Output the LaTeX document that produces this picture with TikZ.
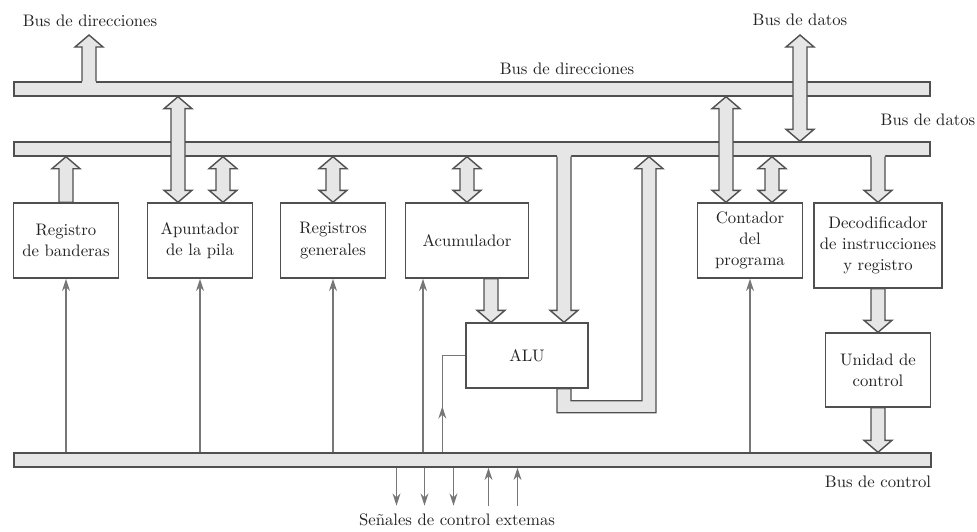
\documentclass[tikz,border=0pt]{standalone}
\usepackage{fontspec}
\usepackage{tikz}
\usetikzlibrary{calc,arrows.meta,positioning}

\definecolor{busfill}{HTML}{E6E6E6}
\definecolor{busline}{HTML}{505050}
\definecolor{ctlline}{HTML}{777777}
\definecolor{txtgray}{HTML}{222222}

\newcommand{\fatw}{0.14cm}
\newcommand{\fath}{0.28cm}
\newcommand{\fatl}{0.24cm}
% fat arrow, vertical at x of #1, from y of #1 to y of #2
\newcommand{\fatone}[2]{%
  \filldraw[fat] let \p1=(#1), \p2=(#2), \n1={sign(\y2-\y1)} in
    ({\x1-\fatw},\y1) -- ({\x1-\fatw},{\y2-\n1*\fatl}) -- ({\x1-\fath},{\y2-\n1*\fatl}) -- (\x1,\y2)
    -- ({\x1+\fath},{\y2-\n1*\fatl}) -- ({\x1+\fatw},{\y2-\n1*\fatl}) -- ({\x1+\fatw},\y1) -- cycle;}
\newcommand{\fattwo}[2]{%
  \filldraw[fat] let \p1=(#1), \p2=(#2), \n1={sign(\y2-\y1)} in
    (\x1,\y1) -- ({\x1-\fath},{\y1+\n1*\fatl}) -- ({\x1-\fatw},{\y1+\n1*\fatl})
    -- ({\x1-\fatw},{\y2-\n1*\fatl}) -- ({\x1-\fath},{\y2-\n1*\fatl}) -- (\x1,\y2)
    -- ({\x1+\fath},{\y2-\n1*\fatl}) -- ({\x1+\fatw},{\y2-\n1*\fatl})
    -- ({\x1+\fatw},{\y1+\n1*\fatl}) -- ({\x1+\fath},{\y1+\n1*\fatl}) -- cycle;}
\newcommand{\fatT}[2]{%
  \fill[busfill] let \p1=(#1), \p2=(#2), \n1={sign(\y2-\y1)} in
    ({\x1-\fatw},{\y1-\n1*0.9pt}) -- ({\x1-\fatw},{\y2-\n1*\fatl}) -- ({\x1-\fath},{\y2-\n1*\fatl}) -- (\x1,\y2)
    -- ({\x1+\fath},{\y2-\n1*\fatl}) -- ({\x1+\fatw},{\y2-\n1*\fatl}) -- ({\x1+\fatw},{\y1-\n1*0.9pt}) -- cycle;
  \draw[fat] let \p1=(#1), \p2=(#2), \n1={sign(\y2-\y1)} in
    ({\x1-\fatw},\y1) -- ({\x1-\fatw},{\y2-\n1*\fatl}) -- ({\x1-\fath},{\y2-\n1*\fatl}) -- (\x1,\y2)
    -- ({\x1+\fath},{\y2-\n1*\fatl}) -- ({\x1+\fatw},{\y2-\n1*\fatl}) -- ({\x1+\fatw},\y1);}

\tikzset{
  bus/.style={draw=busline, fill=busfill, line width=0.8pt, inner sep=0pt, minimum height=0.28cm},
  fat/.style={draw=busline, fill=busfill, line width=0.8pt, line join=miter},
  blk/.style={draw=busline, line width=0.8pt, align=center, inner sep=2pt, text=txtgray},
  ctl/.style={draw=ctlline, line width=0.9pt, -{Stealth[length=7pt,width=4.5pt]}},
  lbl/.style={text=txtgray, inner sep=1pt}
}

\begin{document}
\begin{tikzpicture}[x=0.02cm,y=-0.02cm,font=\fontsize{9.5}{12}\selectfont]
\useasboundingbox (0,0) rectangle (977,531);
\node[bus, minimum width=18.32cm] (abus) at (472,89){};
\node[bus, minimum width=18.32cm] (dbus) at (472,149){};
\node[bus, minimum width=18.34cm] (cbus) at (472.5,460){};
\node[blk, minimum width=2.1cm, minimum height=1.5cm] (regban) at (66,240.5){Registro\\de banderas};
\node[blk, minimum width=2.1cm, minimum height=1.5cm] (apunt) at (200,240.5){Apuntador\\de la pila};
\node[blk, minimum width=2.1cm, minimum height=1.5cm] (reggen) at (333,240.5){Registros\\generales};
\node[blk, minimum width=2.46cm, minimum height=1.5cm] (acum) at (467,240.5){Acumulador};
\node[blk, minimum width=2.44cm, minimum height=1.3cm] (alu) at (527,355.5){ALU};
\node[blk, minimum width=2.1cm, minimum height=1.5cm] (cprog) at (750,240.5){Contador\\del\\programa};
\node[blk, minimum width=2.56cm, minimum height=1.7cm] (decod) at (878,245.5){Decodificador\\de instrucciones\\y registro};
\node[blk, minimum width=2.1cm, minimum height=1.48cm] (ucont) at (878,370){Unidad de\\control};
\node[lbl] (ldir1) at (90,21){Bus de direcciones};
\node[lbl] (ldir2) at (567,69){Bus de direcciones};
\node[lbl] (ldat1) at (800,20){Bus de datos};
\node[lbl] (ldat2) at (928,120){Bus de datos};
\node[lbl] (lctl) at (878,482){Bus de control};
\node[lbl] (lsen) at (457,520){Señales de control extemas};
\coordinate (adrout) at (89,35);
\coordinate (datout) at (800,35);
\coordinate (alin) at ($(alu.north)+(37,0)$);
\coordinate (ret) at ($(alu.south)+(122,0)$);
\coordinate (acl) at ($(acum.south)+(-44,0)$);
\coordinate (alc) at ($(alu.west)+(-23,0)$);
\fatT{adrout |- abus.north}{adrout}
\fattwo{datout}{dbus.north}
\fattwo{$(apunt.north)+(-22,0)$}{abus.south}
\fattwo{$(apunt.north)+(23,0)$}{dbus.south}
\fatone{regban.north}{dbus.south}
\fattwo{reggen.north}{dbus.south}
\fattwo{acum.north}{dbus.south}
\fatone{$(acum.south)+(24,0)$}{alu.north}
\fatT{alin |- dbus.south}{alin}
\filldraw[fat] ($(alu.south)+(30,0)$) -- ++(0,24) -| ($(ret |- dbus.south)+(7,12)$) -- ++(7,0)
  -- (ret |- dbus.south) -- ++(-14,12) -- ++(7,0) |- ($(alu.south)+(44,12)$) -- ++(0,-12) -- cycle;
\fattwo{$(cprog.north)+(-24,0)$}{abus.south}
\fattwo{$(cprog.north)+(22,0)$}{dbus.south}
\fatT{decod.north |- dbus.south}{decod.north}
\fatone{decod.south}{ucont.north}
\fatone{ucont.south}{cbus.north}
\foreach \b in {regban,apunt,reggen,cprog}
  \draw[ctl] (\b.south |- cbus.north) -- (\b.south);
\draw[ctl] (acl |- cbus.north) -- (acl);
\draw[draw=ctlline, line width=0.9pt] (alc |- cbus.north) -- (alc) -- (alu.west);
\draw[ctl] (alc |- cbus.north) -- ++(0,-46);
\foreach \dx in {-76,-48,-19}
  \draw[ctl] ($(cbus.south)+(\dx,0)$) -- ++(0,38);
\foreach \dx in {16,45}
  \draw[ctl] ($(cbus.south)+(\dx,38)$) -- ++(0,-38);
\end{tikzpicture}
\end{document}
